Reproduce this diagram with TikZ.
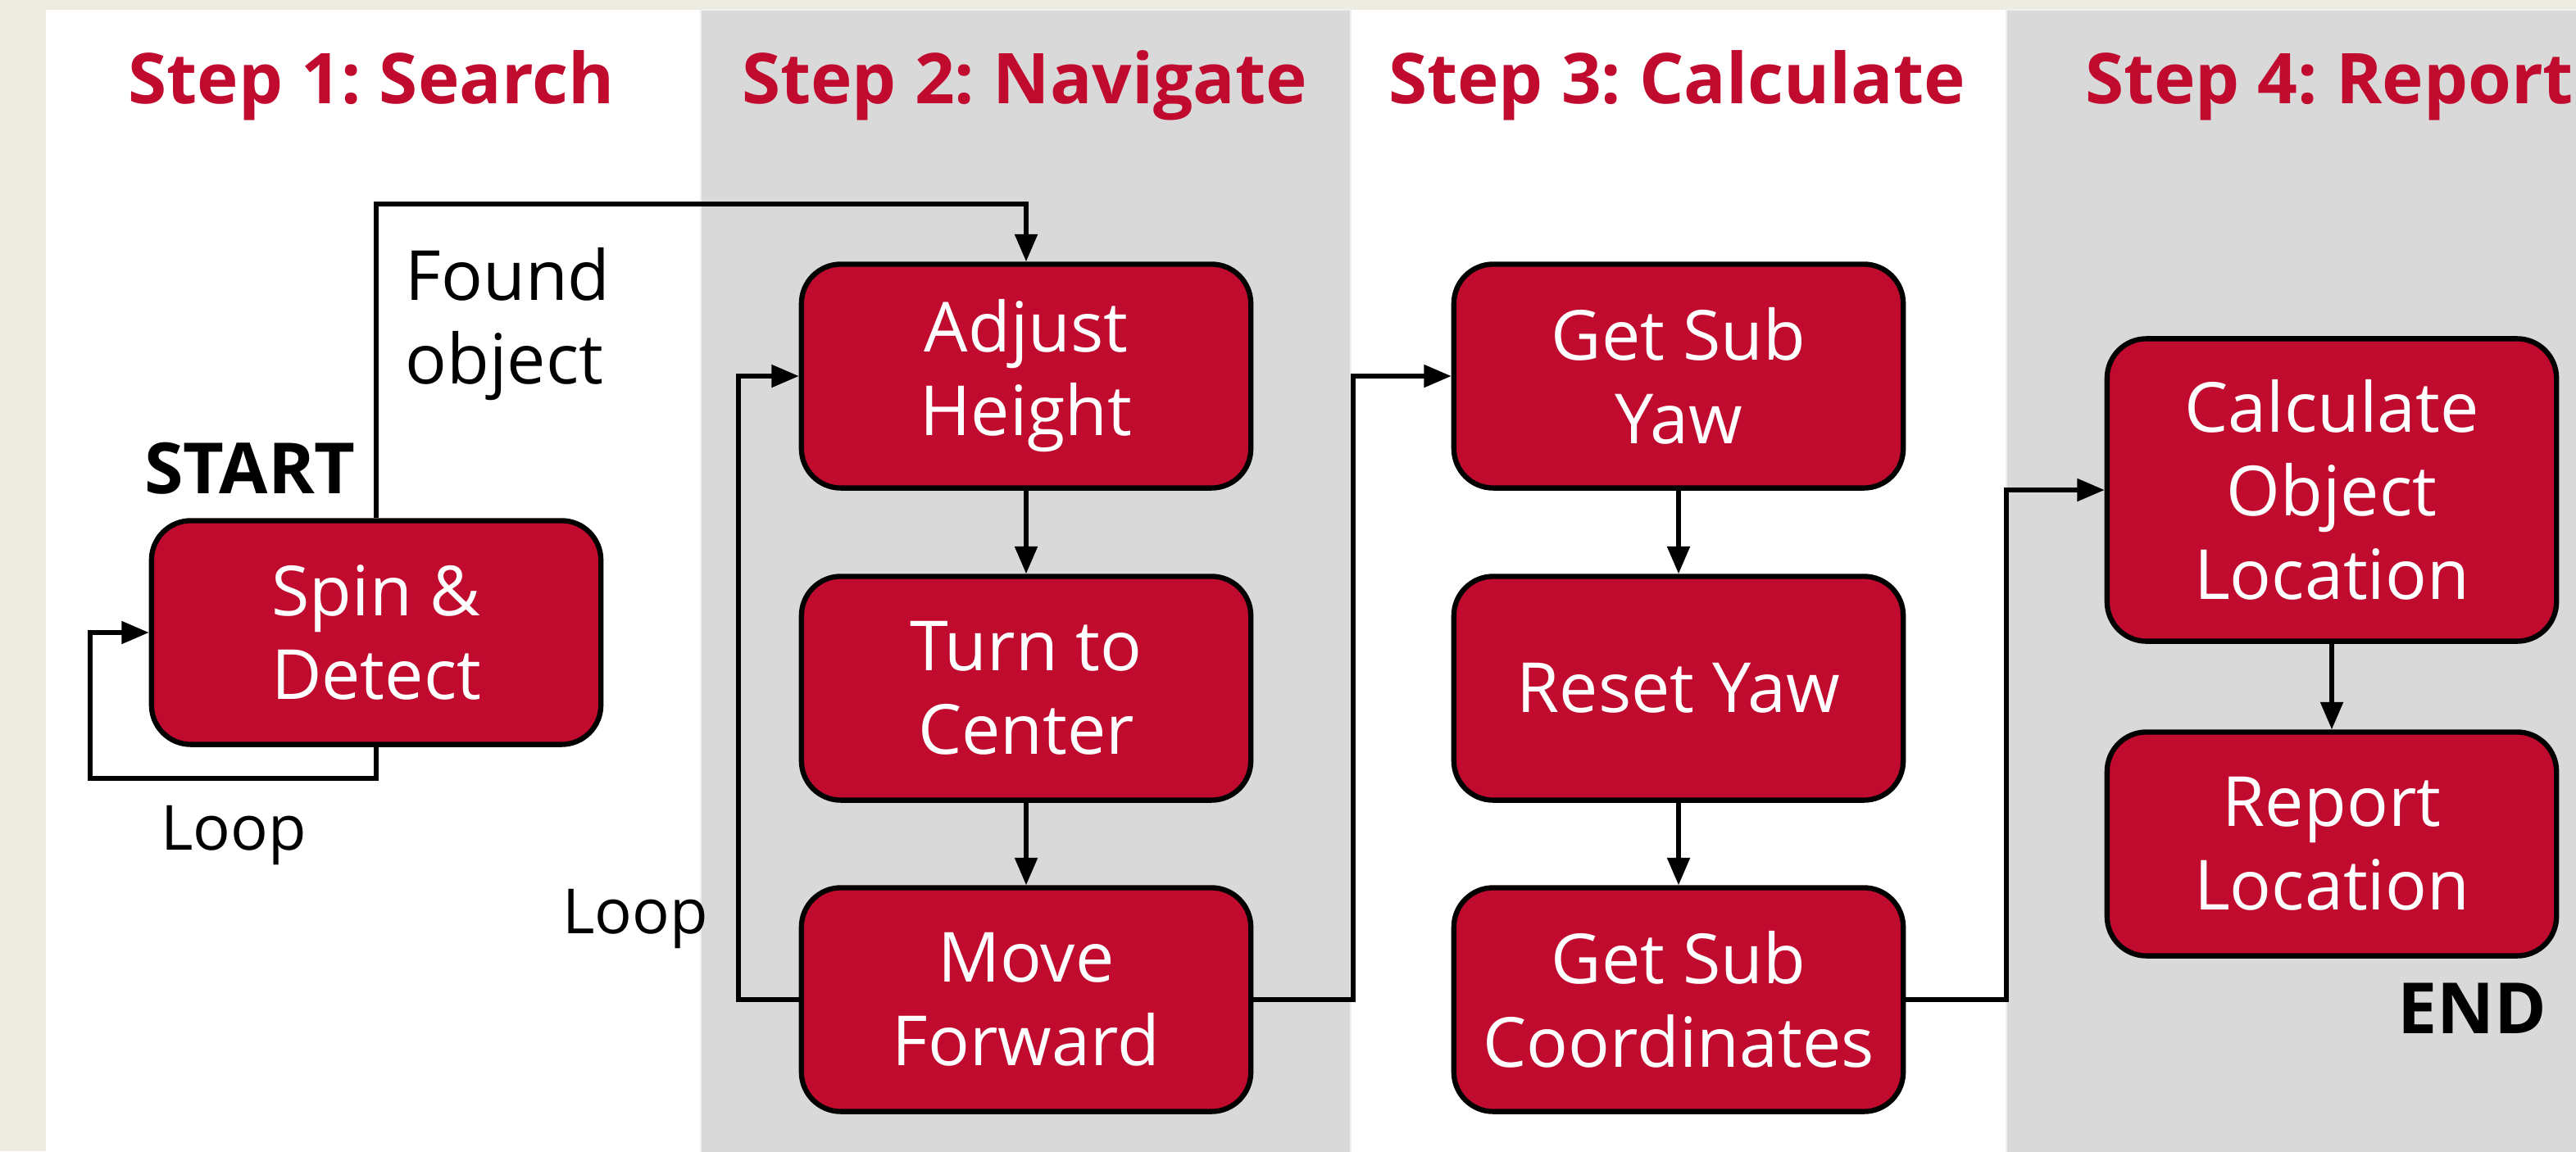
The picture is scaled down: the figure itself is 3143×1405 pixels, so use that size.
\documentclass[tikz,border=0pt]{standalone}
\usepackage{fontspec}
\setmainfont{Open Sans}
\usetikzlibrary{arrows.meta,calc}
\definecolor{beige}{HTML}{EEECE1}
\definecolor{colgray}{HTML}{D9D9D9}
\definecolor{edgegray}{HTML}{EFEFEF}
\definecolor{crimson}{HTML}{C00A2E}
\frenchspacing
\tikzset{
  stepbox/.style={draw=black, line width=1.8pt, fill=crimson, rounded corners=0.48cm,
    minimum width=5.48cm, minimum height=2.73cm, text=white, align=center,
    font=\fontsize{24pt}{29pt}\selectfont, inner sep=0pt},
  title/.style={anchor=base, text=crimson, font=\fontsize{24.3pt}{30pt}\selectfont\bfseries, inner sep=0pt},
  lbl/.style={text=black, font=\fontsize{24pt}{29pt}\selectfont, inner sep=0pt},
  looplbl/.style={anchor=base, text=black, font=\fontsize{21.6pt}{26pt}\selectfont, inner sep=0pt},
  marker/.style={anchor=base, text=black, font=\fontsize{24.5pt}{29pt}\selectfont\bfseries, inner sep=0pt},
  arr/.style={line width=1.45pt, -{Triangle[length=9.5pt,width=7.7pt]}}
}
\begin{document}
\begin{tikzpicture}[x=0.01cm,y=-0.01cm]
\useasboundingbox (0,0) rectangle (3143,1405);
% background and columns
\fill[beige] (0,0) rectangle (3143,1405);
\fill[white] (56,12) rectangle (855,1405);
\filldraw[fill=colgray, draw=edgegray, line width=0.8pt] (855,12) rectangle (1648,1410);
\fill[white] (1649,12) rectangle (2448,1405);
\filldraw[fill=colgray, draw=edgegray, line width=0.8pt] (2448,12) rectangle (3150,1410);
% titles
\node[title] (t1) at (453,126) {Step 1: Search};
\node[title] (t2) at (1250,126) {Step 2: Navigate};
\node[title] (t3) at (2046,126) {Step 3: Calculate};
\node[title] (t4) at (2842,126) {Step 4: Report};
% boxes
\node[stepbox] (spin) at (459,772) {Spin \&\\Detect};
\node[stepbox] (adj) at (1252,459) {Adjust\\Height};
\node[stepbox] (turn) at (1252,840) {Turn to\\Center};
\node[stepbox] (move) at (1252,1220) {Move\\Forward};
\node[stepbox] (yaw) at (2048,459) {Get Sub\\Yaw};
\node[stepbox] (reset) at (2048,840) {Reset Yaw};
\node[stepbox] (coords) at (2048,1220) {Get Sub\\Coordinates};
\node[stepbox, minimum height=3.69cm] (calc) at (2845,598) {Calculate\\Object\\Location};
\node[stepbox] (report) at (2845,1030) {Report\\Location};
% labels
\node[marker] (start) at (305,602) {START};
\node[marker] (end) at (3016,1261) {END};
\node[lbl, anchor=north west, align=left] (found) at (494,302) {Found\\object};
\node[looplbl] (loop1) at (285,1037) {Loop};
\node[looplbl] (loop2) at (775,1139) {Loop};
% helper coordinates
\coordinate (topy) at (0,249);
\coordinate (l1) at (110,950);
\coordinate (l2) at (901,0);
\coordinate (c23) at (1651,0);
\coordinate (c34) at (2448,0);
% connectors
\draw[arr] (spin.north) -- (spin.north |- topy) -| (adj.north);
\draw[arr] (spin.south) |- (l1) |- (spin.west);
\draw[arr] (adj) -- (turn);
\draw[arr] (turn) -- (move);
\draw[arr] (move.west) -- (move.west -| l2) |- (adj.west);
\draw[arr] (move.east) -- (move.east -| c23) |- (yaw.west);
\draw[arr] (yaw) -- (reset);
\draw[arr] (reset) -- (coords);
\draw[arr] (coords.east) -- (coords.east -| c34) |- (calc.west);
\draw[arr] (calc) -- (report);
\end{tikzpicture}
\end{document}
